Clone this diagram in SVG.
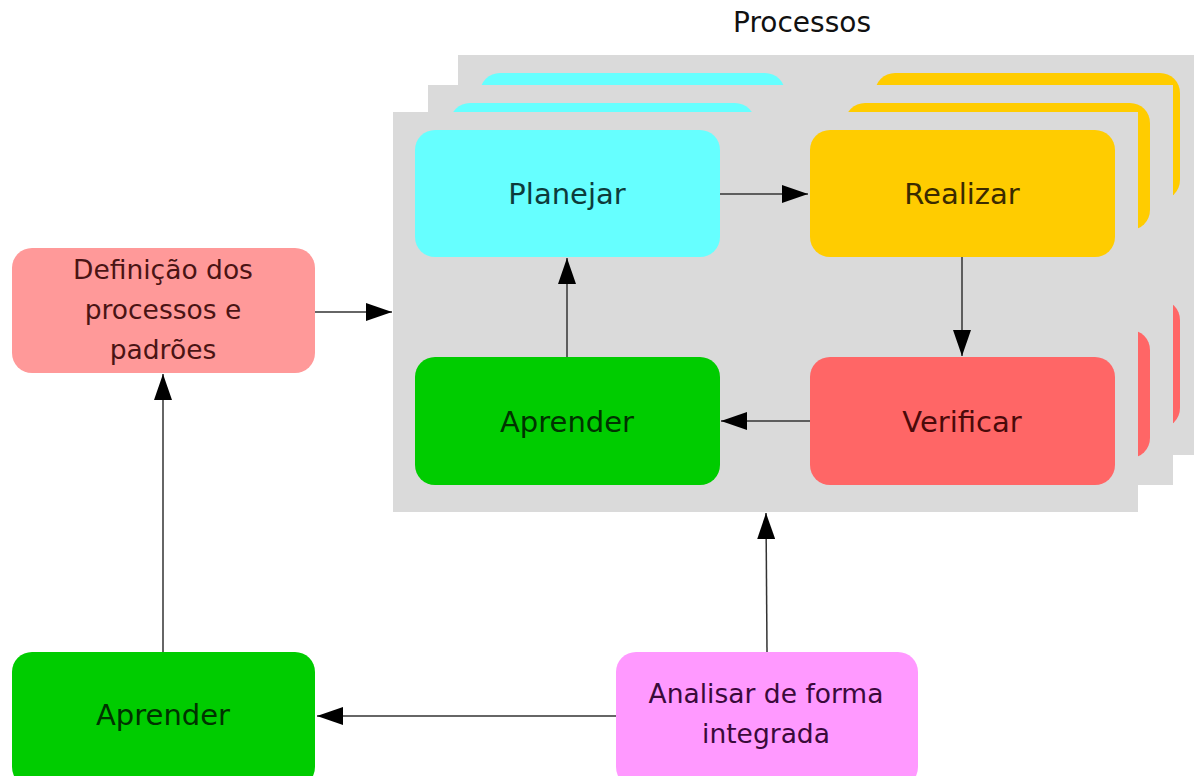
<svg xmlns="http://www.w3.org/2000/svg" xmlns:xlink="http://www.w3.org/1999/xlink" width="1194" height="776" viewBox="0 0 1194 776">
  <style>
    text { font-family: "DejaVu Sans", "Liberation Sans", sans-serif; text-anchor: middle; }
    .lbl { font-size: 29px; }
    .small { font-size: 26.5px; }
    .panel { fill: #dadada; }
    .cyan { fill: #66ffff; }
    .yellow { fill: #ffcc00; }
    .green { fill: #00cc00; }
    .red { fill: #ff6666; }
    .pink { fill: #ff9999; }
    .magenta { fill: #ff99ff; }
    .edge { stroke: #333333; stroke-width: 1.5; fill: none; marker-end: url(#arrow); }
  </style>
  <defs>
    <marker id="arrow" markerUnits="userSpaceOnUse" viewBox="0 0 26 18" markerWidth="26" markerHeight="18" refX="26" refY="9" orient="auto">
      <path d="M0,0 L26,9 L0,18 z" fill="#000000"/>
    </marker>
    <g id="layer">
      <rect class="panel" x="393" y="112" width="745" height="400"/>
      <rect class="cyan" x="415" y="130" width="305" height="127" rx="20" ry="20"/>
      <rect class="yellow" x="810" y="130" width="305" height="127" rx="20" ry="20"/>
      <rect class="green" x="415" y="357" width="305" height="128" rx="20" ry="20"/>
      <rect class="red" x="810" y="357" width="305" height="128" rx="20" ry="20"/>
    </g>
  </defs>
  <rect x="0" y="0" width="1194" height="776" fill="#ffffff"/>

  <g id="processos-title">
    <text x="802" y="32" style="font-size:28px" fill="#111111">Processos</text>
  </g>

  <g id="stack-back">
    <use xlink:href="#layer" href="#layer" x="65" y="-57"/>
  </g>
  <g id="stack-middle">
    <use xlink:href="#layer" href="#layer" x="35" y="-27"/>
  </g>
  <g id="processos-panel">
    <rect class="panel" x="393" y="112" width="745" height="400"/>
  </g>

  <g id="node-planejar">
    <rect class="cyan" x="415" y="130" width="305" height="127" rx="20" ry="20"/>
    <text class="lbl" x="567" y="204" fill="#0d3b3b">Planejar</text>
  </g>
  <g id="node-realizar">
    <rect class="yellow" x="810" y="130" width="305" height="127" rx="20" ry="20"/>
    <text class="lbl" x="962" y="204" fill="#3a2a00">Realizar</text>
  </g>
  <g id="node-aprender-ciclo">
    <rect class="green" x="415" y="357" width="305" height="128" rx="20" ry="20"/>
    <text class="lbl" x="567" y="432" fill="#003300">Aprender</text>
  </g>
  <g id="node-verificar">
    <rect class="red" x="810" y="357" width="305" height="128" rx="20" ry="20"/>
    <text class="lbl" x="962" y="432" fill="#4a0a0a">Verificar</text>
  </g>

  <g id="node-definicao">
    <rect class="pink" x="12" y="248" width="303" height="125" rx="20" ry="20"/>
    <text class="small" x="163" y="279" fill="#4a1414">Definição dos</text>
    <text class="small" x="163" y="319" fill="#4a1414">processos e</text>
    <text class="small" x="163" y="359" fill="#4a1414">padrões</text>
  </g>
  <g id="node-aprender">
    <rect class="green" x="12" y="652" width="303" height="135" rx="20" ry="20"/>
    <text class="lbl" x="163" y="725" fill="#003300">Aprender</text>
  </g>
  <g id="node-analisar">
    <rect class="magenta" x="616" y="652" width="302" height="135" rx="20" ry="20"/>
    <text class="small" x="766" y="703" fill="#3a0a3a">Analisar de forma</text>
    <text class="small" x="766" y="743" fill="#3a0a3a">integrada</text>
  </g>

  <g id="connectors">
    <line class="edge" x1="720" y1="194" x2="808" y2="194"/>
    <line class="edge" x1="962" y1="257" x2="962" y2="356"/>
    <line class="edge" x1="810" y1="421" x2="721" y2="421"/>
    <line class="edge" x1="567" y1="357" x2="567" y2="258"/>
    <line class="edge" x1="315" y1="312" x2="392" y2="312"/>
    <line class="edge" x1="163" y1="652" x2="163" y2="374"/>
    <line class="edge" x1="616" y1="716" x2="317" y2="716"/>
    <line class="edge" x1="767" y1="652" x2="766" y2="513"/>
  </g>
</svg>
